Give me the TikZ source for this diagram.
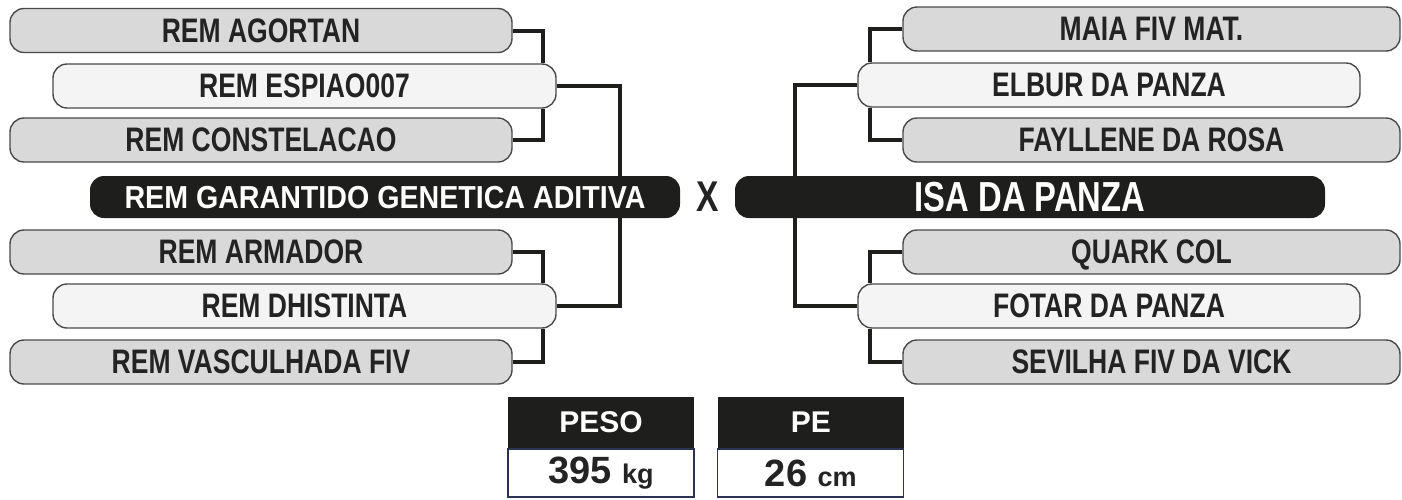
\documentclass[tikz,border=0pt]{standalone}
\usepackage{fontspec}
\setmainfont{Liberation Sans}
\newfontfamily\condfont[FakeStretch=0.78]{Liberation Sans}
\newfontfamily\midfont[FakeStretch=0.9]{Liberation Sans}
\usepackage{xcolor}
\usetikzlibrary{positioning, backgrounds}

\definecolor{inkblack}{HTML}{1E1E1C}
\definecolor{boxgray}{HTML}{D9D9D9}
\definecolor{boxlight}{HTML}{F4F4F4}
\definecolor{edgegray}{HTML}{4A4A4A}
\definecolor{namegray}{HTML}{232323}
\definecolor{cellblue}{HTML}{2B3350}

\begin{document}
\begin{tikzpicture}[x=0.5pt, y=-0.5pt,
    namebox/.style={draw=edgegray, line width=0.7pt, rounded corners=7pt, inner sep=0pt,
      minimum height=22pt, text=namegray, text depth=0pt,
      font=\condfont\bfseries\fontsize{17}{17}\selectfont},
    graybox/.style={namebox, fill=boxgray, minimum width=251pt},
    lightbox/.style={namebox, fill=boxlight, minimum width=251.5pt},
    champbox/.style={fill=inkblack, rounded corners=7pt, inner sep=0pt, minimum width=295pt,
      minimum height=21pt, text=white, text depth=0pt},
    link/.style={draw=inkblack, line width=2pt},
    headcell/.style={fill=inkblack, text=white, inner sep=0pt, minimum width=93pt,
      minimum height=25.5pt, font=\bfseries\fontsize{15}{15}\selectfont},
    valcell/.style={draw=cellblue, line width=0.6pt, fill=white, inner sep=0pt, minimum width=93pt,
      minimum height=24pt, text=namegray}]

    \useasboundingbox (0,0) rectangle (1402,499);

    % Lado do pai
    \foreach \n/\y/\t in {agortan/30.5/REM AGORTAN, constelacao/140/REM CONSTELACAO,
                          armador/252/REM ARMADOR, vasculhada/362/REM VASCULHADA FIV} {
      \node[graybox] (\n) at (261,\y) {\t};
    }
    \foreach \n/\y/\t in {espiao/86/REM ESPIAO007, dhistinta/306/REM DHISTINTA} {
      \node[lightbox] (\n) at (304.5,\y) {\t};
    }
    \node[champbox, font=\midfont\bfseries\fontsize{15.9}{15.9}\selectfont] (garantido) at (385,197)
      {REM GARANTIDO GENETICA ADITIVA};

    % Lado da mae
    \foreach \n/\y/\t in {maia/29/MAIA FIV MAT., fayllene/140/FAYLLENE DA ROSA,
                          quark/252/QUARK COL, sevilha/362/SEVILHA FIV DA VICK} {
      \node[graybox, minimum width=248.5pt] (\n) at (1151.5,\y) {\t};
    }
    \foreach \n/\y/\t in {elbur/85/ELBUR DA PANZA, fotar/306/FOTAR DA PANZA} {
      \node[lightbox, minimum width=251pt] (\n) at (1109,\y) {\t};
    }
    \node[champbox, font=\condfont\bfseries\fontsize{21}{21}\selectfont] (isa) at (1030,197)
      {ISA DA PANZA};

    \node[text=namegray, inner sep=0pt, font=\condfont\bfseries\fontsize{21.5}{21.5}\selectfont]
      (versus) at (708,197) {X};

    % Ligacoes
    \coordinate (ljoin) at (543,0);
    \coordinate (lmain) at (620,0);
    \coordinate (rjoin) at (870,0);
    \coordinate (rmain) at (795,0);
    \begin{scope}[on background layer]
      \draw[link] (agortan.east) -| (espiao.north -| ljoin);
      \draw[link] (espiao.south -| ljoin) |- (constelacao.east);
      \draw[link] (armador.east) -| (dhistinta.north -| ljoin);
      \draw[link] (dhistinta.south -| ljoin) |- (vasculhada.east);
      \draw[link] (espiao.east) -| (garantido.north -| lmain);
      \draw[link] (garantido.south -| lmain) |- (dhistinta.east);
      \draw[link] (maia.west) -| (elbur.north -| rjoin);
      \draw[link] (elbur.south -| rjoin) |- (fayllene.west);
      \draw[link] (quark.west) -| (fotar.north -| rjoin);
      \draw[link] (fotar.south -| rjoin) |- (sevilha.west);
      \draw[link] (elbur.west) -| (isa.north -| rmain);
      \draw[link] (isa.south -| rmain) |- (fotar.west);
    \end{scope}

    % Medidas
    \node[headcell] (pesohead) at (601,422.5) {PESO};
    \node[valcell, below=0pt of pesohead] (pesoval)
      {\bfseries\fontsize{19}{19}\selectfont 395 {\fontsize{13.5}{13.5}\selectfont kg}};
    \node[headcell, right=11.5pt of pesohead] (pehead) {PE};
    \node[valcell, below=0pt of pehead] (peval)
      {\bfseries\fontsize{19}{19}\selectfont 26 {\fontsize{13.5}{13.5}\selectfont cm}};
  \end{tikzpicture}
\end{document}
